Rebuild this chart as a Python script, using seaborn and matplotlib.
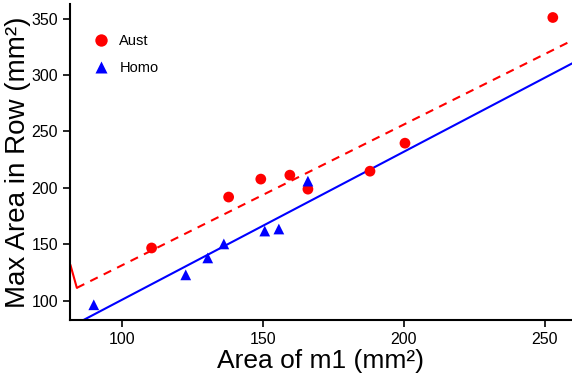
import numpy as np
import pandas as pd
import matplotlib
matplotlib.use("Agg")
import matplotlib.pyplot as plt
import seaborn as sns

# Data
aust_x = [110.6, 137.9, 149.3, 159.6, 166.0, 188.0, 200.4, 252.8]
aust_y = [146.8, 191.9, 207.8, 211.3, 198.9, 214.8, 239.6, 350.9]
homo_x = [90.1, 122.7, 130.5, 136.2, 150.7, 155.7, 166.0]
homo_y = [96.5, 123.0, 138.0, 150.4, 161.8, 163.6, 206.0]

# Fitted lines (intercept, slope) and x ranges
aust_fit = (6.54, 1.248)
aust_fit_x = [84.1, 260.0]
homo_fit = (-30.4, 1.312)
homo_fit_x = [80.0, 260.0]
# short red solid segment at the left edge
aust_seg_x = [81.8, 84.1]
aust_seg_y = [132.0, 111.5]

xticks = [100, 150, 200, 250]
yticks = [100, 150, 200, 250, 300, 350]

sns.set_theme(style="ticks")
plt.rcParams['font.family'] = ['Liberation Sans', 'DejaVu Sans']
plt.rcParams['text.color'] = 'black'
plt.rcParams['axes.labelcolor'] = 'black'

df = pd.DataFrame({
    "x": aust_x + homo_x,
    "y": aust_y + homo_y,
    "group": ["Aust"] * len(aust_x) + ["Homo"] * len(homo_x),
})

fig, ax = plt.subplots(figsize=(5.72, 3.83), dpi=100)
fig.subplots_adjust(left=0.122, right=1.0, bottom=0.165, top=0.99)

sns.scatterplot(data=df, x="x", y="y", hue="group", style="group",
                palette={"Aust": "#FF0000", "Homo": "#0000FF"},
                markers={"Aust": "o", "Homo": "^"}, s=60, edgecolor="none",
                ax=ax, zorder=3)

ax_x = np.array(aust_fit_x)
ax.plot(ax_x, aust_fit[0] + aust_fit[1] * ax_x, color="#FF0000", ls=(0, (4, 3.2)), lw=1.5)
hx = np.array(homo_fit_x)
ax.plot(hx, homo_fit[0] + homo_fit[1] * hx, color="#0000FF", lw=1.5)
ax.plot(aust_seg_x, aust_seg_y, color="#FF0000", lw=1.5)

ax.set_xlim(81.6, 259.6)
ax.set_ylim(83.2, 363)
ax.set_xticks(xticks)
ax.set_yticks(yticks)
ax.set_xlabel("Area of m1 (mm²)", fontsize=19, labelpad=2)
ax.set_ylabel("Max Area in Row (mm²)", fontsize=20, labelpad=0)
ax.tick_params(labelsize=11.5, length=5, width=1.2, colors="black", pad=3.5)
for s in ["top", "right"]:
    ax.spines[s].set_visible(False)
for s in ["left", "bottom"]:
    ax.spines[s].set_color("black")
    ax.spines[s].set_linewidth(1.5)

leg = ax.legend(loc="upper left", bbox_to_anchor=(0.006, 0.945), frameon=False,
                fontsize=10.5, handletextpad=0.3, labelspacing=0.85,
                markerscale=1.15, title=None)

fig.savefig("out.png", dpi=100)
